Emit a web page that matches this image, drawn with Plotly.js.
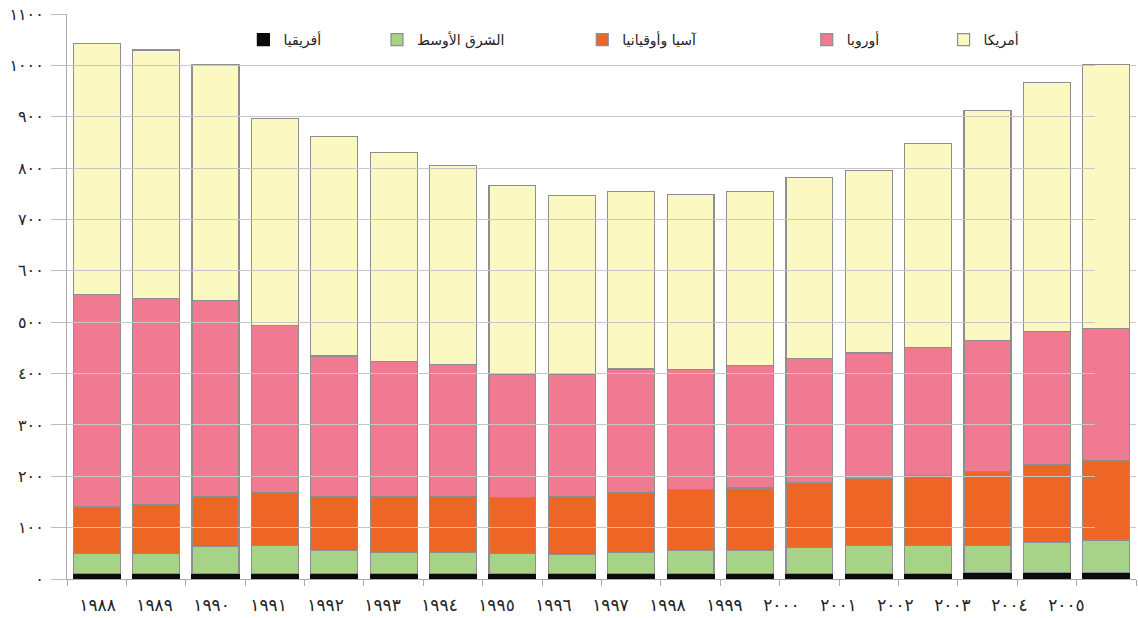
<!DOCTYPE html>
<html>
<head>
<meta charset="utf-8">
<script src="https://cdn.plot.ly/plotly-3.0.1.min.js"></script>
<style>html,body{margin:0;padding:0;background:#fff;}#chart{width:1138px;height:618px;}</style>
</head>
<body>
<div id="chart"></div>
<script>
// Categories (years) and their Arabic-Indic labels
const years = ["1988","1989","1990","1991","1992","1993","1994","1995","1996","1997","1998","1999","2000","2001","2002","2003","2004","2005"];
const yearLabels = ["١٩٨٨","١٩٨٩","١٩٩٠","١٩٩١","١٩٩٢","١٩٩٣","١٩٩٤","١٩٩٥","١٩٩٦","١٩٩٧","١٩٩٨","١٩٩٩","٢٠٠٠","٢٠٠١","٢٠٠٢","٢٠٠٣","٢٠٠٤","٢٠٠٥"];

// Series values (stacked from bottom)
const africa     = [10, 10, 10, 10, 10, 10, 10, 10, 10, 10, 10, 11, 11, 11, 11, 12, 12, 13];
const middleEast = [40, 40, 53, 56, 46, 42, 42, 39, 37, 42, 46, 45, 51, 54, 54, 54, 59, 63];
const asiaOceania= [90, 95, 97, 102, 105, 109, 109, 110, 114, 117, 119, 121, 125, 131, 137, 143, 152, 154];
const europe     = [414, 401, 383, 326, 273, 263, 257, 239, 237, 240, 233, 239, 243, 244, 248, 256, 259, 258];
const america    = [489, 484, 459, 403, 428, 407, 387, 368, 348, 346, 341, 339, 352, 356, 398, 447, 485, 513];

// Series names
const names = ["أفريقيا", "الشرق الأوسط", "آسيا وأوقيانيا", "أوروبا", "أمريكا"];

// Y axis ticks
const yTickVals = [0, 100, 200, 300, 400, 500, 600, 700, 800, 900, 1000, 1100];
const yTickText = ["٠", "١٠٠", "٢٠٠", "٣٠٠", "٤٠٠", "٥٠٠", "٦٠٠", "٧٠٠", "٨٠٠", "٩٠٠", "١٠٠٠", "١١٠٠"];

const colors = ["#0b0b0b", "#a7d389", "#ee6625", "#ef7a92", "#fbf8c2"];
const series = [africa, middleEast, asiaOceania, europe, america];
const legendIds = ["legend", "legend2", "legend3", "legend4", "legend5"];
const legendX = [0.165, 0.29, 0.482, 0.692, 0.820];

const traces = series.map((vals, i) => ({
  type: "bar",
  x: years,
  y: vals,
  name: names[i],
  legend: legendIds[i],
  marker: {color: colors[i], line: {color: i === 0 ? "#0b0b0b" : "#8e8e8e", width: 1.2}},
  hoverinfo: "skip"
}));

// label-only trace carrying the year labels on the label axis (draws nothing)
traces.push({
  type: "scatter",
  mode: "none",
  x: yearLabels,
  y: africa,
  xaxis: "x2",
  yaxis: "y",
  showlegend: false,
  hoverinfo: "skip"
});

const layout = {
  width: 1138,
  height: 618,
  margin: {l: 67, r: 2, t: 14, b: 39},
  paper_bgcolor: "#ffffff",
  plot_bgcolor: "rgba(0,0,0,0)",
  barmode: "stack",
  bargap: 0.21,
  font: {family: "DejaVu Sans, sans-serif", color: "#222"},
  xaxis: {
    type: "category",
    showticklabels: false,
    ticks: "outside",
    tickson: "boundaries",
    ticklen: 6,
    tickcolor: "#aaaaaa",
    showgrid: false,
    showline: true,
    linecolor: "#aaaaaa",
    linewidth: 1,
    zeroline: false
  },
  xaxis2: {
    type: "category",
    domain: [0.0019, 0.9616],
    anchor: "y",
    range: [-0.5, years.length - 0.5],
    ticks: "",
    ticklabelstandoff: 14,
    showgrid: false,
    showline: false,
    zeroline: false,
    tickangle: 0,
    tickfont: {size: 17, color: "#222", family: "DejaVu Sans, sans-serif"}
  },
  yaxis: {
    range: [0, 1100],
    tickmode: "array",
    tickvals: yTickVals,
    ticktext: yTickText,
    ticks: "outside",
    ticklen: 15,
    tickcolor: "#bbbbbb",
    gridcolor: "#c6c6c6",
    showline: true,
    linecolor: "#aaaaaa",
    zeroline: false,
    ticklabelstandoff: 4,
    tickfont: {size: 16, color: "#222", family: "DejaVu Sans, sans-serif"}
  },
  showlegend: true
};

legendIds.forEach((id, i) => {
  layout[id] = {
    x: legendX[i],
    xanchor: "left",
    y: 0.954,
    yanchor: "middle",
    orientation: "h",
    bgcolor: "rgba(0,0,0,0)",
    font: {size: 14, color: "#222", family: "DejaVu Sans, sans-serif"}
  };
});

Plotly.newPlot("chart", traces, layout, {displayModeBar: false, staticPlot: true});
</script>
</body>
</html>
